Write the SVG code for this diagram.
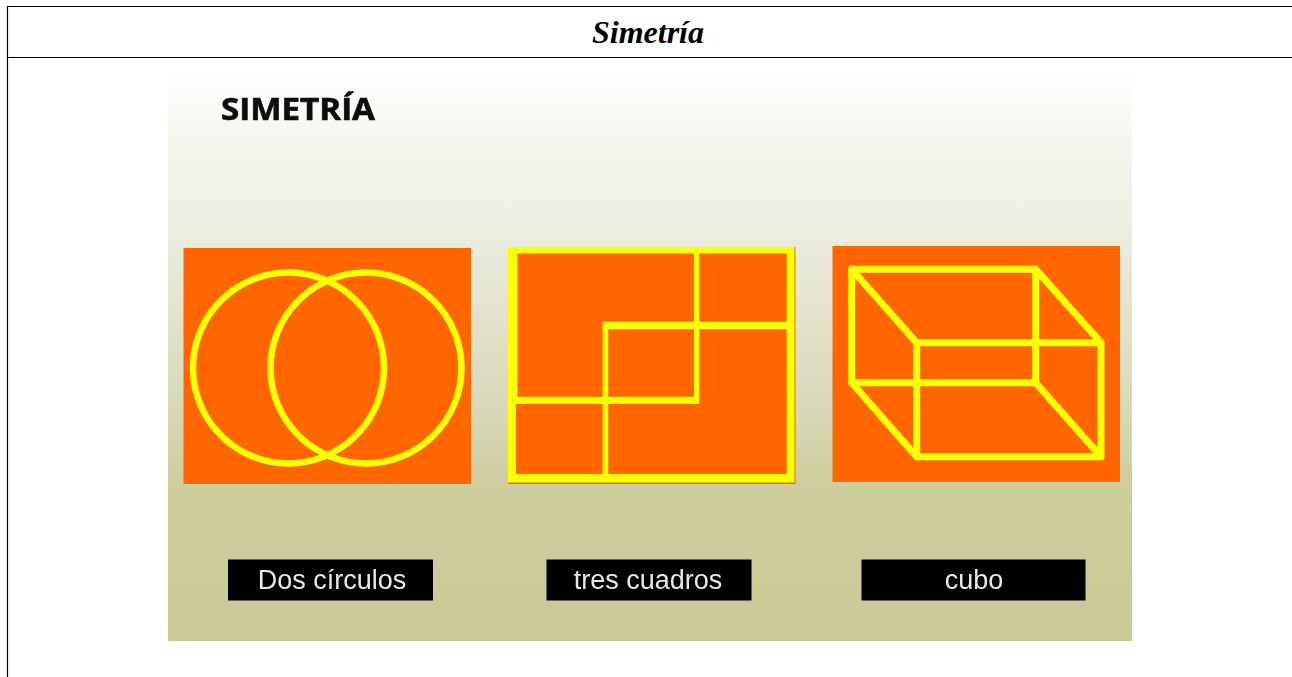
<svg xmlns="http://www.w3.org/2000/svg" width="1292" height="677" viewBox="0 0 1292 677">
<style>
.frame{stroke:#000;stroke-width:1.2;fill:none}
.panel{fill:#ff6600}
.ln{stroke:#ffff00;fill:none;stroke-linejoin:round;stroke-linecap:round}
.lab{fill:#000}
.labt{font-family:"Liberation Sans",Arial,sans-serif;font-size:27px;fill:#e8e8e8;text-anchor:middle}
</style>
<defs>
<linearGradient id="bg" gradientUnits="userSpaceOnUse" x1="0" y1="72" x2="0" y2="641">
<stop offset="0" stop-color="#ffffff"/>
<stop offset="0.1" stop-color="#f7f7f1"/>
<stop offset="0.3" stop-color="#ebebdd"/>
<stop offset="0.58" stop-color="#d9d9ba"/>
<stop offset="0.74" stop-color="#cdcc9b"/>
<stop offset="1" stop-color="#cbca97"/>
</linearGradient>
<filter id="soft" x="-5%" y="-5%" width="110%" height="110%"><feGaussianBlur stdDeviation="0.5"/></filter>
</defs>
<rect width="1292" height="677" fill="#fff"/>
<g id="table">
<path class="frame" d="M1292 6.5H7.5V677M7.5 57.5H1292"/>
<text x="648" y="43" font-family="'Liberation Serif','Times New Roman',serif" font-size="32" font-weight="bold" font-style="italic" text-anchor="middle">Simetría</text>
</g>
<g id="picture" filter="url(#soft)">
<rect x="168" y="72" width="964" height="569" fill="url(#bg)"/>
<text x="221" y="120" font-family="'Open Sans','Noto Sans',sans-serif" font-size="31" font-weight="bold" fill="#0a0a0a" stroke="#0a0a0a" stroke-width="0.6" textLength="154" lengthAdjust="spacingAndGlyphs">SIMETRÍA</text>
<g id="dos-circulos">
<rect class="panel" x="183.5" y="248" width="287.5" height="236"/>
<circle class="ln" stroke-width="6.5" cx="288.5" cy="368" r="95.5"/>
<circle class="ln" stroke-width="6.5" cx="366" cy="368" r="95.5"/>
</g>
<g id="tres-cuadros">
<rect x="508.5" y="247" width="287" height="237" fill="#e07010"/>
<rect x="508" y="247" width="286.5" height="235.5" fill="#ffff00"/>
<path class="panel" d="M517.5 253.5H694V321.7H602.7V396.7H517.5Z"/>
<rect class="panel" x="699.3" y="253.5" width="87.4" height="68.2"/>
<rect class="panel" x="608.3" y="329.3" width="85.7" height="67.4"/>
<rect class="panel" x="516" y="404" width="86.7" height="70"/>
<path class="panel" d="M608.3 404H699.3V329.3H786.7V474H608.3Z"/>
</g>
<g id="cubo">
<rect class="panel" x="832.5" y="246" width="287.5" height="236"/>
<path class="ln" stroke-width="7" d="M851.7 269.3H1035.7V382.7H851.7ZM916.7 342.7H1101V456.7H916.7ZM851.7 269.3L916.7 342.7M1035.7 269.3L1101 342.7M851.7 382.7L916.7 456.7M1035.7 382.7L1101 456.7"/>
</g>
<g id="label-dos-circulos">
<rect class="lab" x="228" y="559.5" width="205" height="41"/>
<text class="labt" x="332" y="589">Dos círculos</text>
</g>
<g id="label-tres-cuadros">
<rect class="lab" x="546.5" y="559.5" width="205" height="41"/>
<text class="labt" x="648" y="589">tres cuadros</text>
</g>
<g id="label-cubo">
<rect class="lab" x="861.5" y="559.5" width="224" height="41"/>
<text class="labt" x="974" y="589">cubo</text>
</g>
</g>
</svg>
